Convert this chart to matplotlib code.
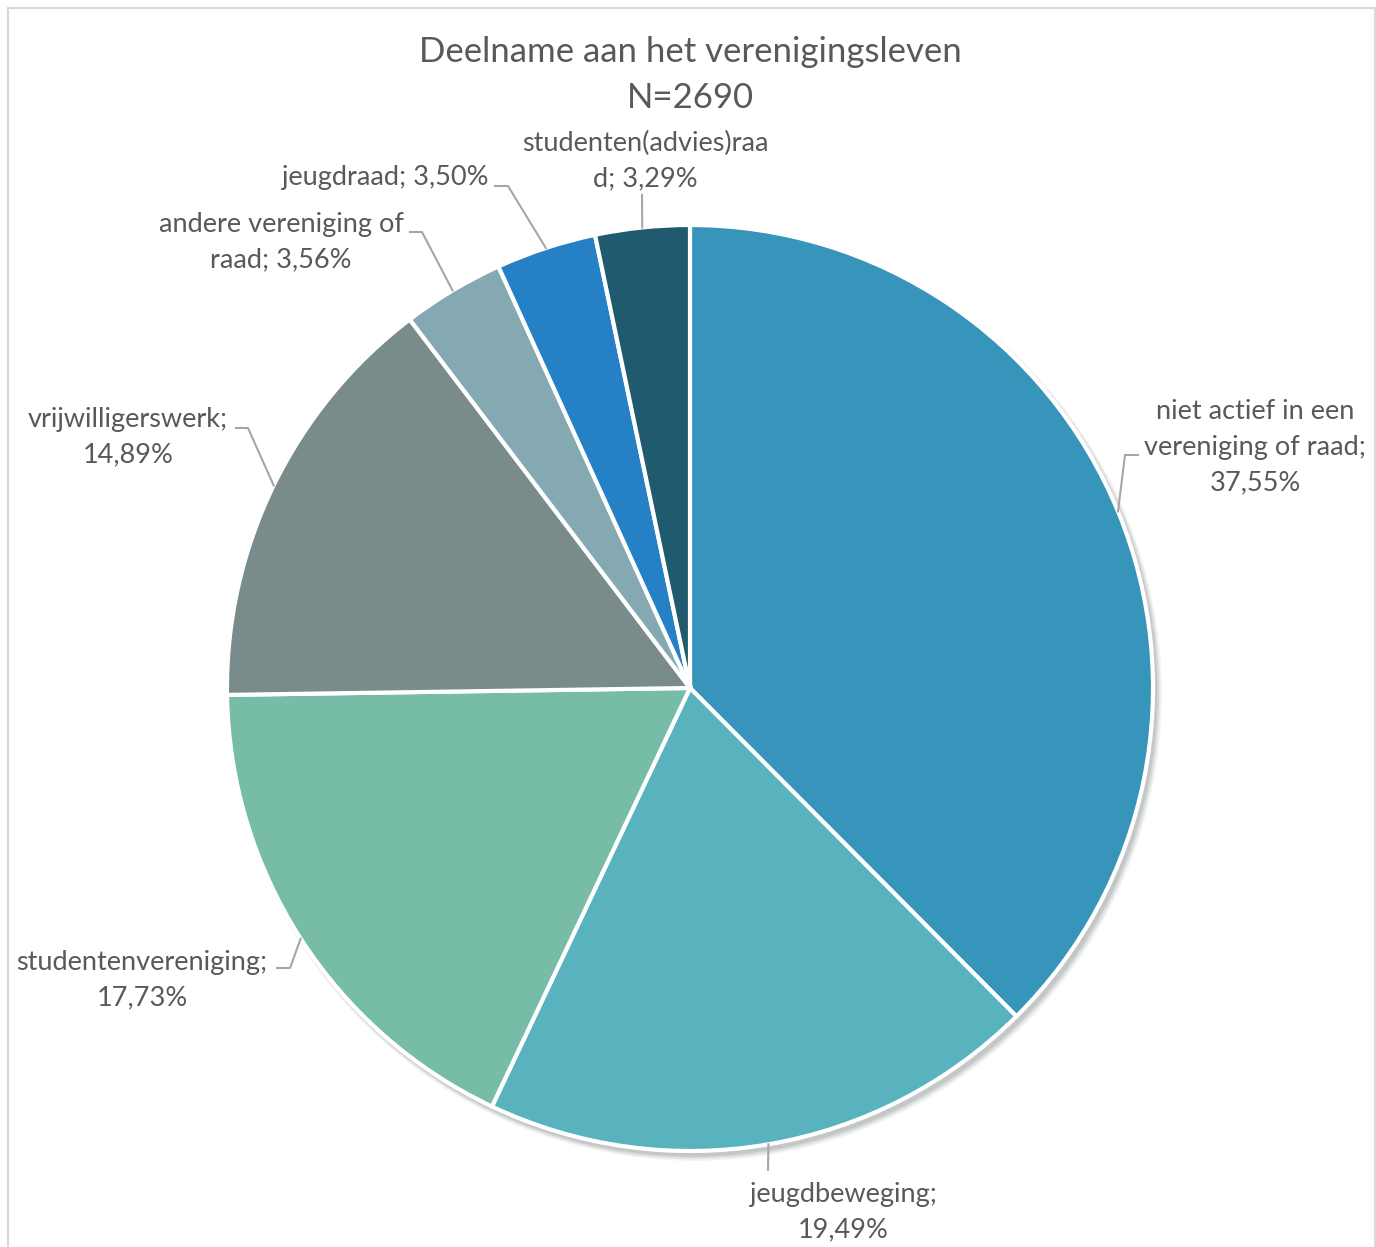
import numpy as np
import matplotlib
matplotlib.use("Agg")
import matplotlib.pyplot as plt
from matplotlib.patches import Rectangle, Circle

# ---- data ----
categories = ["niet actief in een vereniging of raad", "jeugdbeweging", "studentenvereniging",
              "vrijwilligerswerk", "andere vereniging of raad", "jeugdraad", "studenten(advies)raad"]
values = [37.55, 19.49, 17.73, 14.89, 3.56, 3.50, 3.29]
label_texts = ["niet actief in een\nvereniging of raad;\n37,55%",
               "jeugdbeweging;\n19,49%",
               "studentenvereniging;\n17,73%",
               "vrijwilligerswerk;\n14,89%",
               "andere vereniging of\nraad; 3,56%",
               "jeugdraad; 3,50%",
               "studenten(advies)raa\nd; 3,29%"]
colors = ["#3794BA", "#58B3BF", "#76BCA7", "#7A8B8C", "#84A9B2", "#2580C5", "#1F5A6E"]
title = "Deelname aan het verenigingsleven\nN=2690"

W, H = 1376, 1247
fig = plt.figure(figsize=(W / 100, H / 100), dpi=100)
ax = fig.add_axes([0, 0, 1, 1])
ax.set_xlim(0, W)
ax.set_ylim(0, H)
ax.set_aspect("equal")
ax.axis("off")

def Y(y):
    return H - y

FONT = ["Lato", "DejaVu Sans"]
TXT = "#595959"
LINE = "#A6A6A6"

# border
ax.add_patch(Rectangle((8, Y(1260)), 1367, 1252, fill=False, edgecolor="#D9D9D9", lw=1.5, zorder=0))

cx, cy, R = 690, Y(688), 463

# soft shadow
for i, a in enumerate([0.05, 0.07, 0.09, 0.12]):
    ax.add_patch(Circle((cx + 5 - i * 0.5, cy - 6 + i * 0.5), R + 4 - i, color="#3a4a4a", alpha=a, lw=0, zorder=1))

wedges, _ = ax.pie(values, colors=colors, startangle=90, counterclock=False,
                   center=(cx, cy), radius=R, frame=True,
                   wedgeprops=dict(edgecolor="white", linewidth=3, zorder=2))
ax.set_xlim(0, W)
ax.set_ylim(0, H)
ax.axis("off")

# label layout: (text x, text y center, ha, leader path points after edge)
layout = [
    (1255, 447, "center", [(1125, 455), (1138, 455)]),
    (843, 1212, "center", [(768, 1170)]),
    (142, 980, "center", [(290, 968), (277, 968)]),
    (128, 437, "center", [(248, 428), (236, 428)]),
    (281, 242, "center", [(422, 232), (410, 232)]),
    (385, 178, "center", [(508, 186), (495, 186)]),
    (645, 161, "center", [(642, 195)]),
]

total = sum(values)
cum = 0
for v, txt, (tx, ty, ha, pts) in zip(values, label_texts, layout):
    mid = cum + v / 2
    cum += v
    ang = np.deg2rad(90 - mid / total * 360)
    ex, ey = cx + R * np.cos(ang), cy + R * np.sin(ang)
    xs = [ex] + [p[0] for p in pts]
    ys = [ey] + [Y(p[1]) for p in pts]
    ax.plot(xs, ys, color=LINE, lw=1.5, zorder=3)
    ax.text(tx, Y(ty), txt, ha=ha, va="center", fontsize=19.5, color=TXT,
            family=FONT, linespacing=1.52, zorder=4)

ax.text(690, Y(75), title, ha="center", va="center", fontsize=25, color=TXT,
        family=FONT, linespacing=1.5)

fig.savefig("out.png", dpi=100, facecolor="white")
